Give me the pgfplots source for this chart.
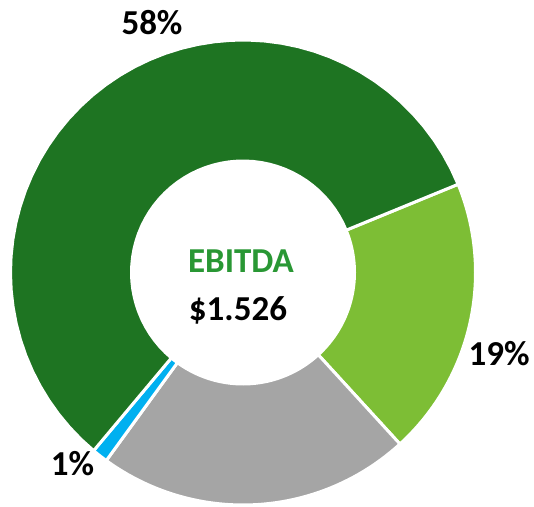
\documentclass[border=0pt]{standalone}
\usepackage{pgfplots}
\pgfplotsset{compat=1.18}
\usepackage{fontspec}
\setmainfont{Carlito}
\definecolor{dkgreen}{RGB}{30,116,34}
\definecolor{ltgreen}{RGB}{125,190,53}
\definecolor{sgrey}{RGB}{165,165,165}
\definecolor{sblue}{RGB}{0,176,240}
\definecolor{titlegreen}{RGB}{41,151,52}
% annular sector: #1 start angle, #2 end angle, #3 colour
\newcommand{\slice}[3]{%
  \addplot[fill=#3, draw=white, line width=3bp, line join=round,
    samples at={0,1,...,101}, variable=\t]
    ({ifthenelse(\t<=50, \cx+\Ro*cos(#1+(#2-#1)*\t/50), \cx+\Ri*cos(#2-(#2-#1)*(\t-51)/50))},
     {ifthenelse(\t<=50, \cy+\Ro*sin(#1+(#2-#1)*\t/50), \cy+\Ri*sin(#2-(#2-#1)*(\t-51)/50))}) -- cycle;
}
\begin{document}
\begin{tikzpicture}
% shares in percent, clockwise from the start angle
\def\vLight{19.4}
\def\vGrey{21.8}
\def\vBlue{1.1}
\def\vDark{57.7}
\def\cx{243}
\def\cy{231.5}
\def\Ro{232.5}
\def\Ri{111.5}
\pgfmathsetmacro\aA{22.3}
\pgfmathsetmacro\aB{\aA-3.6*\vLight}
\pgfmathsetmacro\aC{\aB-3.6*\vGrey}
\pgfmathsetmacro\aD{\aC-3.6*\vBlue}
\pgfmathsetmacro\aE{\aD-3.6*\vDark}
\begin{axis}[
  width=534bp, height=504bp, scale only axis,
  xmin=0, xmax=534, ymin=0, ymax=504,
  axis line style={draw=none}, ticks=none, clip=false,
]
\slice{\aA}{\aB}{ltgreen}
\slice{\aB}{\aC}{sgrey}
\slice{\aC}{\aD}{sblue}
\slice{\aD}{\aE}{dkgreen}
\node[anchor=base, font=\fontsize{35bp}{40bp}\selectfont\bfseries] at (axis cs:152,469) {58\%};
\node[anchor=base, font=\fontsize{35bp}{40bp}\selectfont\bfseries] at (axis cs:499,139) {19\%};
\node[anchor=base, font=\fontsize{35bp}{40bp}\selectfont\bfseries] at (axis cs:72.5,29) {1\%};
\node[anchor=base, font=\fontsize{35bp}{40bp}\selectfont\bfseries, text=titlegreen] at (axis cs:241,231.3) {EBITDA};
\node[anchor=base, font=\fontsize{35bp}{40bp}\selectfont\bfseries] at (axis cs:238,183.5) {\$1.526};
\end{axis}
\end{tikzpicture}
\end{document}
